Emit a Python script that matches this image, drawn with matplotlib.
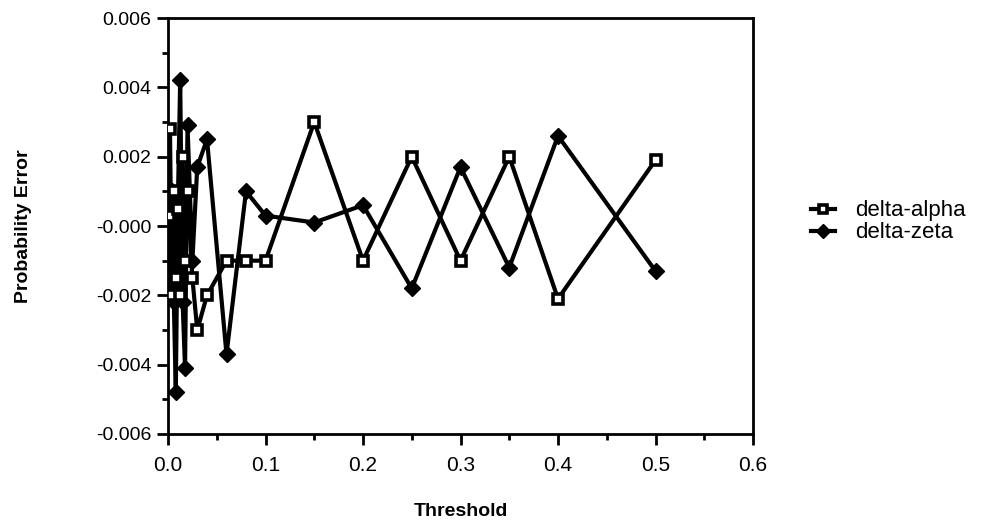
import matplotlib
matplotlib.use("Agg")
import matplotlib.pyplot as plt
from matplotlib.ticker import MultipleLocator

plt.rcParams['font.family'] = ['Liberation Sans', 'DejaVu Sans']

threshold = [0.001, 0.002, 0.004, 0.006, 0.008, 0.01, 0.0125, 0.015, 0.0175, 0.02,
             0.025, 0.03, 0.04, 0.06, 0.08, 0.1, 0.15, 0.2, 0.25, 0.3, 0.35, 0.4, 0.5]
delta_alpha = [0.0003, 0.0028, -0.002, 0.001, -0.0015, 0.0005, -0.002, 0.002, -0.001, 0.001,
               -0.0015, -0.003, -0.002, -0.001, -0.001, -0.001, 0.003, -0.001, 0.002, -0.001,
               0.002, -0.0021, 0.0019]
delta_zeta = [0.0, -0.002, 0.001, -0.0022, -0.0048, 0.0005, 0.0042, -0.0022, -0.0041, 0.0029,
              -0.001, 0.0017, 0.0025, -0.0037, 0.001, 0.0003, 0.0001, 0.0006, -0.0018, 0.0017,
              -0.0012, 0.0026, -0.0013]

y_ticks = [0.006, 0.004, 0.002, 0.0, -0.002, -0.004, -0.006]
y_tick_labels = ["0.006", "0.004", "0.002", "-0.000", "-0.002", "-0.004", "-0.006"]
x_ticks = [0.0, 0.1, 0.2, 0.3, 0.4, 0.5, 0.6]
x_tick_labels = ["0.0", "0.1", "0.2", "0.3", "0.4", "0.5", "0.6"]

fig = plt.figure(figsize=(9.91, 5.22), dpi=100)
ax = fig.add_axes([168/991, 1-434/522, (753-168)/991, (434-18)/522])

ax.plot(threshold, delta_alpha, color='black', lw=3, marker='s', ms=7.5,
        mfc='white', mec='black', mew=2.6, label='delta-alpha', zorder=3)
ax.plot(threshold, delta_zeta, color='black', lw=3, marker='D', ms=8.5,
        mfc='black', mec='black', label='delta-zeta', zorder=2)

ax.set_xlim(0, 0.6)
ax.set_ylim(-0.006, 0.006)
ax.set_xticks(x_ticks)
ax.set_xticklabels(x_tick_labels, fontsize=15)
ax.set_yticks(y_ticks)
ax.set_yticklabels(y_tick_labels, fontsize=14)
ax.xaxis.set_minor_locator(MultipleLocator(0.05))
ax.yaxis.set_minor_locator(MultipleLocator(0.001))
ax.tick_params(which='major', direction='out', length=8, width=2)
ax.tick_params(which='minor', direction='out', length=4, width=2)
ax.tick_params(axis='x', which='major', pad=8)
ax.tick_params(axis='y', which='major', pad=4)
for s in ax.spines.values():
    s.set_linewidth(2)

ax.set_xlabel("Threshold", fontsize=14, fontweight='bold', labelpad=20)
ax.set_ylabel("Probability Error", fontsize=14, fontweight='bold', labelpad=46)

ax.legend(loc='center left', bbox_to_anchor=(1.065, 0.51), frameon=False,
          fontsize=16, handlelength=1.1, handletextpad=0.9, labelspacing=0.05,
          markerscale=0.85)

fig.savefig("out.png", dpi=100)
